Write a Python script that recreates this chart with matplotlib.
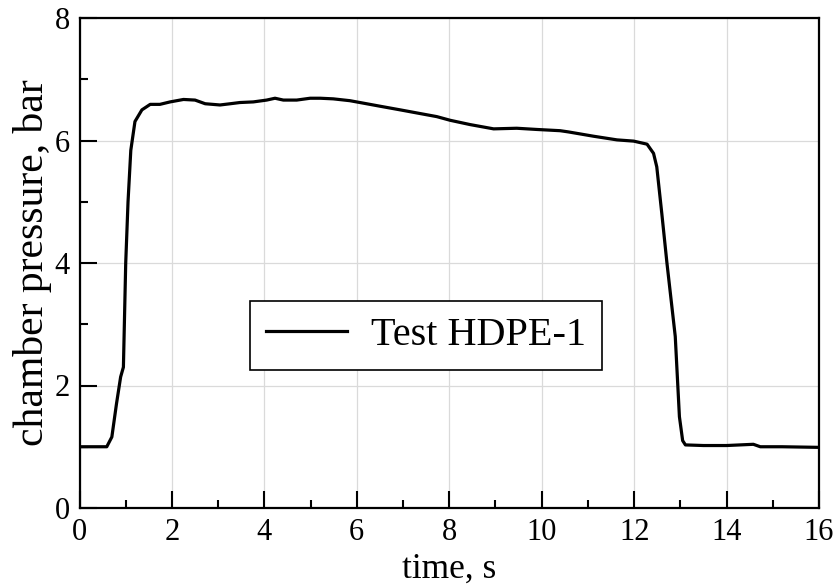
import matplotlib.pyplot as plt
import numpy as np

# chamber pressure trace
time_s = [0.0, 0.3, 0.59, 0.70, 0.80, 0.89, 0.95, 1.00, 1.05, 1.11, 1.20, 1.35,
          1.53, 1.74, 1.96, 2.25, 2.50, 2.72, 3.04, 3.26, 3.47, 3.76, 4.05, 4.23,
          4.41, 4.70, 4.99, 5.21, 5.49, 5.85, 6.14, 6.50, 6.94, 7.37, 7.73, 8.02,
          8.45, 8.96, 9.46, 9.90, 10.40, 10.58, 11.12, 11.63, 11.99, 12.28, 12.42,
          12.49, 12.60, 12.71, 12.89, 12.98, 13.05, 13.11, 13.5, 14.0, 14.58,
          14.73, 15.2, 16.0]
pressure_bar = [1.00, 1.00, 1.00, 1.16, 1.70, 2.14, 2.30, 4.00, 5.00, 5.84, 6.31, 6.50,
                6.59, 6.59, 6.63, 6.67, 6.66, 6.60, 6.58, 6.60, 6.62, 6.63, 6.66, 6.69,
                6.66, 6.66, 6.69, 6.69, 6.68, 6.65, 6.61, 6.56, 6.50, 6.44, 6.39, 6.33,
                6.26, 6.19, 6.20, 6.18, 6.16, 6.14, 6.07, 6.01, 5.99, 5.94, 5.79,
                5.57, 4.80, 4.00, 2.80, 1.49, 1.10, 1.03, 1.02, 1.02, 1.04,
                1.00, 1.00, 0.99]

x_ticks = [0, 2, 4, 6, 8, 10, 12, 14, 16]
y_ticks = [0, 2, 4, 6, 8]
series_label = "Test HDPE-1"

plt.rcParams["font.family"] = "Liberation Serif"

fig = plt.figure(figsize=(8.34, 5.87), dpi=100)
ax = fig.add_axes([79.5 / 834, 1 - 508 / 587, 739.5 / 834, 490 / 587])

ax.plot(time_s, pressure_bar, color="black", lw=2.3, label=series_label,
        solid_joinstyle="round", zorder=3)

ax.set_xlim(0, 16)
ax.set_ylim(0, 8)
ax.set_xticks(x_ticks)
ax.set_yticks(y_ticks)
ax.set_xticks(np.arange(1, 16, 2), minor=True)
ax.set_yticks(np.arange(1, 8, 2), minor=True)
ax.tick_params(which="major", direction="in", length=12, width=1.5,
               labelsize=22, pad=7, top=False, right=False)
ax.tick_params(which="minor", direction="in", length=6, width=1.5,
               top=False, right=False)
for sp in ax.spines.values():
    sp.set_linewidth(1.6)

ax.grid(True, which="major", color="#dadada", lw=0.9, zorder=0)
ax.set_axisbelow(True)

ax.set_xlabel("time, s", fontsize=25.5, labelpad=4)
ax.set_ylabel("chamber pressure, bar", fontsize=30, labelpad=2)

leg = ax.legend(loc="center", bbox_to_anchor=(0.4685, 0.352), fontsize=29,
                fancybox=False, framealpha=1, edgecolor="black",
                handlelength=2.0, handletextpad=0.6, borderpad=0.4)
leg.get_frame().set_linewidth(1.2)
for h in leg.legend_handles:
    h.set_linewidth(2.3)

fig.savefig("out.png", dpi=100)
